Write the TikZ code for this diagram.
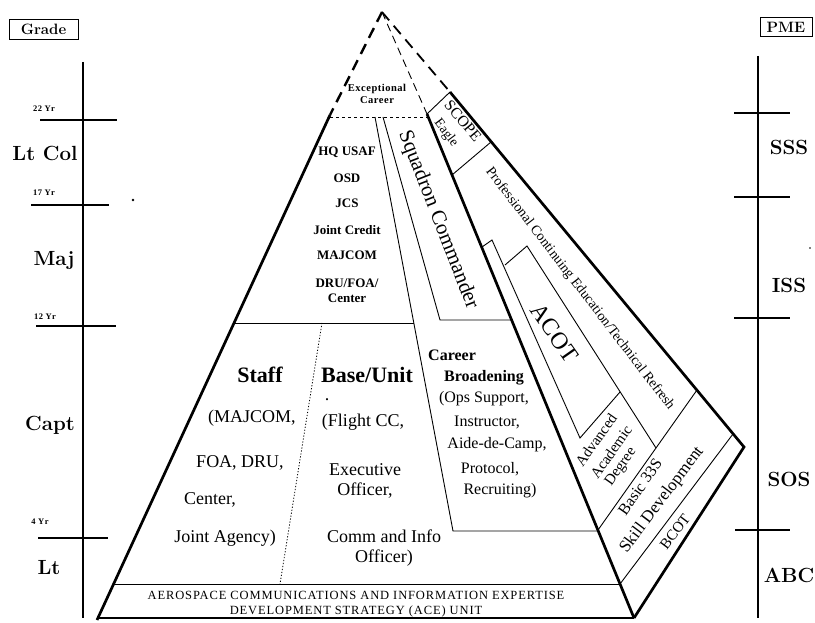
\documentclass[tikz,border=0pt]{standalone}
\usepackage{fontspec}
\newfontfamily\tms{Liberation Serif}
\newfontfamily\tmsw[LetterSpace=7]{Liberation Serif}
\newfontfamily\tmss[LetterSpace=5]{Liberation Serif}
\begin{document}
\begin{tikzpicture}[x=1pt,y=-1pt,
  thickline/.style={line width=2.7pt},
  thinline/.style={line width=0.9pt},
  axisline/.style={line width=1.1pt},
  dashthick/.style={line width=2.4pt, dash pattern=on 11pt off 7pt},
  dashthin/.style={line width=0.9pt, dash pattern=on 8pt off 5pt},
  dotline/.style={line width=0.8pt, dash pattern=on 3pt off 3pt},
  finedot/.style={line width=0.8pt, dash pattern=on 1.2pt off 1.8pt},
  gradelbl/.style={font=\fontsize{20.5}{22}\selectfont\bfseries, inner sep=0pt},
  yrlbl/.style={font=\tmss\fontsize{8.5}{9}\selectfont\bfseries, inner sep=0pt},
  boxlbl/.style={draw, line width=0.9pt, font=\fontsize{15}{17}\selectfont\bfseries, inner sep=0pt},
  listlbl/.style={font=\tms\fontsize{13}{15}\selectfont\bfseries, inner sep=0pt},
  bodylbl/.style={font=\tms\fontsize{18}{20}\selectfont, inner sep=0pt},
  headlbl/.style={font=\tms\fontsize{22}{24}\selectfont\bfseries, inner sep=0pt},
  cblbl/.style={font=\tms\fontsize{16}{18}\selectfont, inner sep=0pt},
  winglbl/.style={font=\tms\fontsize{15}{17}\selectfont, inner sep=0pt},
]
\useasboundingbox (0,0) rectangle (815,623);

% ---------- axes ----------
\draw[axisline] (83,62) -- (83,618);
\draw[axisline] (40,120) -- (117,120);
\draw[axisline] (31,205) -- (109,205);
\draw[axisline] (36,326) -- (116,326);
\draw[axisline] (38,538) -- (108,538);
\draw[axisline] (758,56) -- (758,618);
\draw[axisline] (734,113) -- (790,113);
\draw[axisline] (734,197) -- (790,197);
\draw[axisline] (734,318) -- (790,318);
\draw[axisline] (735,530) -- (790,530);

\node[boxlbl, minimum width=69pt, minimum height=20pt] (grade) at (43.5,29) {Grade};
\node[boxlbl, minimum width=52pt, minimum height=19pt] (pme) at (786,27) {PME};

\node[yrlbl] (y22) at (44,109) {22 Yr};
\node[yrlbl] (y17) at (44,193) {17 Yr};
\node[yrlbl] (y12) at (45,317) {12 Yr};
\node[yrlbl] (y4) at (40,522) {4 Yr};

\node[gradelbl] (ltcol) at (45,153) {Lt Col};
\node[gradelbl] (maj) at (54,261) {Maj};
\node[gradelbl] (capt) at (50,425) {Capt};
\node[gradelbl] (lt) at (49,568) {Lt};

\node[gradelbl] (sss) at (789,147) {SSS};
\node[gradelbl] (iss) at (789,285) {ISS};
\node[gradelbl] (sos) at (789,479) {SOS};
\node[gradelbl] (abc) at (789,575) {ABC};

\fill (133,200) circle (1.3pt);
\fill (810,248) circle (0.8pt);

% ---------- pyramid frame ----------
\coordinate (apex) at (382,12);
\coordinate (Ltop) at (330,115);
\coordinate (Lbot) at (97,620);
\coordinate (Itop) at (427,114);
\coordinate (Bot) at (634,618);
\coordinate (Otop) at (450,92);
\coordinate (Ocor) at (744,447);

\draw[dashthick] (apex) -- (Ltop);
\draw[dashthick, line width=1.8pt] (apex) -- (Otop);
\draw[dashthin] (apex) -- (Itop);
\draw[thickline] (Ltop) -- (Lbot);
\draw[thickline] (Itop) -- (Bot);
\draw[thickline, line join=miter] (Otop) -- (Ocor) -- (Bot);
\draw[dotline] (330,117) -- (427,117);

% left body cells
\draw[thinline] (375,117) -- (453,531) -- (598,531);
\draw[thinline] (383,117) -- (440,320) -- (512,320);
\draw[thinline] (234,323) -- (414,323);
\draw[finedot] (322,323) -- (280,584);
\draw[thinline] (114,584) -- (620,584);
\draw[line width=1.4pt] (98,618) -- (634,618);

% wing cells
\draw[thinline] (Itop) -- (Otop);
\draw[thinline] (452,175) -- (491,142);
\draw[thinline] (697,390) -- (598,530);
\draw[thinline] (733,434) -- (620,584);
\draw[thinline] (482,247) -- (492,240) -- (580,438) -- (620,392);
\draw[thinline] (505,265) -- (527,246) -- (656,448);

% ---------- texts ----------
\node[font=\tmss\fontsize{10.5}{12}\selectfont\bfseries, align=center, inner sep=0pt] (exc) at (377,94) {Exceptional\\Career};
\node[font=\tms\fontsize{15.5}{17}\selectfont, rotate=-50, inner sep=0pt] (scope) at (463,121) {SCOPE};
\node[font=\tms\fontsize{13.5}{15}\selectfont, rotate=-53, inner sep=0pt] (eagle) at (446,133) {Eagle};
\node[font=\tms\fontsize{14}{16}\selectfont, rotate=-52.5, inner sep=0pt] (pce) at (580,289) {Professional Continuing Education/Technical Refresh};
\node[font=\tms\fontsize{21}{23}\selectfont, rotate=-68.7, inner sep=0pt] (sqc) at (438,220) {Squadron Commander};
\node[font=\tms\fontsize{24}{26}\selectfont, rotate=-55, inner sep=0pt] (acot) at (555,333) {ACOT};

\node[listlbl] (hq) at (347,152) {HQ USAF};
\node[listlbl] (osd) at (347,178) {OSD};
\node[listlbl] (jcs) at (347,203) {JCS};
\node[listlbl] (jc) at (347,230) {Joint Credit};
\node[listlbl] (mj) at (347,255) {MAJCOM};
\node[listlbl, align=center] (dru) at (347,291) {DRU/FOA/\\Center};

\node[headlbl] (staff) at (260,375) {Staff};
\node[headlbl] (base) at (367,375) {Base/Unit};
\node[bodylbl] (s1) at (252,418) {(MAJCOM,};
\node[bodylbl] (s2) at (240,463) {FOA, DRU,};
\node[bodylbl] (s3) at (210,500) {Center,};
\node[bodylbl] (s4) at (225,538) {Joint Agency)};
\node[bodylbl] (bdot) at (327,400) {.};
\node[bodylbl] (b1) at (363,422) {(Flight CC,};
\node[bodylbl, align=center] (b2) at (365,481) {Executive\\Officer,};
\node[bodylbl, align=center] (b3) at (384,548) {Comm and Info\\Officer)};

\node[font=\tms\fontsize{16}{18}\selectfont\bfseries, inner sep=0pt, anchor=west] (cb1) at (428,355) {Career};
\node[font=\tms\fontsize{16}{18}\selectfont\bfseries, inner sep=0pt] (cb2) at (484,378) {Broadening};
\node[cblbl] (cb3) at (484,399) {(Ops Support,};
\node[cblbl] (cb4) at (487,422) {Instructor,};
\node[cblbl] (cb5) at (497,445) {Aide-de-Camp,};
\node[cblbl] (cb6) at (490,469) {Protocol,};
\node[cblbl] (cb7) at (500,491) {Recruiting)};

\node[winglbl, rotate=55] (adv1) at (596,440) {Advanced};
\node[winglbl, rotate=55] (adv2) at (611,452) {Academic};
\node[winglbl, rotate=55] (adv3) at (621,467) {Degree};
\node[font=\tms\fontsize{16}{18}\selectfont, rotate=55, inner sep=0pt] (b33) at (640,487) {Basic 33S};
\node[font=\tms\fontsize{17}{19}\selectfont, rotate=53, inner sep=0pt] (skill) at (662,500) {Skill Development};
\node[winglbl, rotate=53] (bcot) at (675,532) {BCOT};

\node[font=\tmsw\fontsize{12.5}{14.5}\selectfont, align=center, inner sep=0pt] (ace) at (356,604) {AEROSPACE COMMUNICATIONS AND INFORMATION EXPERTISE\\DEVELOPMENT STRATEGY (ACE) UNIT};
\end{tikzpicture}
\end{document}
